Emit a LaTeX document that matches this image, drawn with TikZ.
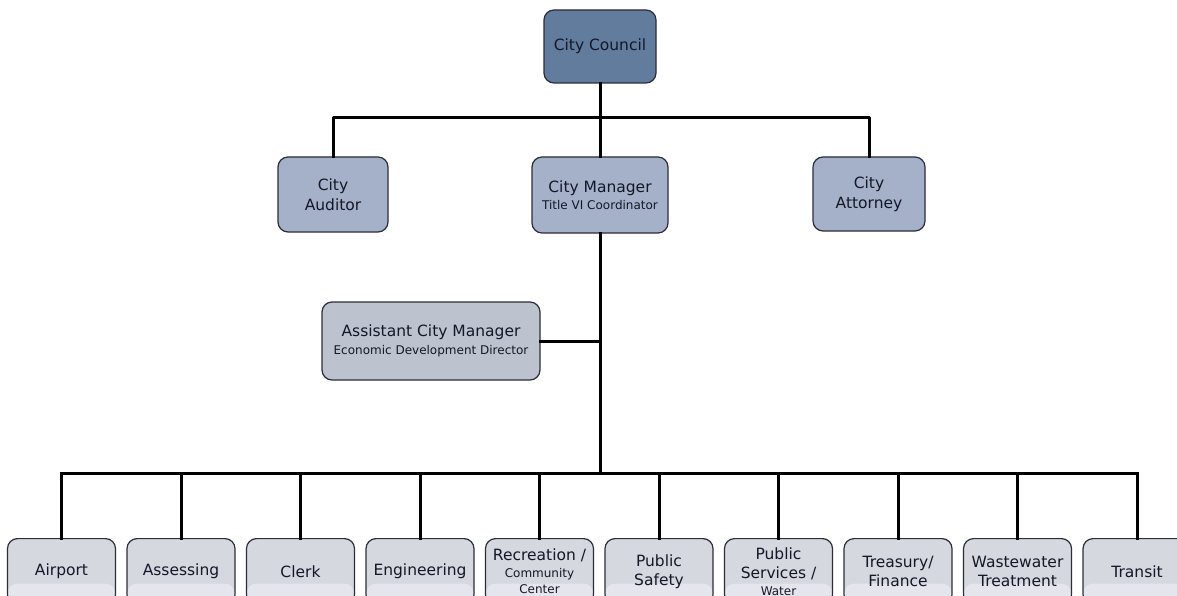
\documentclass[tikz,border=0pt]{standalone}
\usepackage{fontspec}
\setmainfont{DejaVu Sans}
\usepackage{xcolor}
\usetikzlibrary{calc,positioning}
\definecolor{councilfill}{RGB}{98,124,158}
\definecolor{topfill}{RGB}{164,177,200}
\definecolor{asstfill}{RGB}{188,194,206}
\definecolor{deptfill}{RGB}{213,216,223}
\definecolor{bandfill}{RGB}{229,229,237}
\definecolor{boxline}{RGB}{45,45,55}
\definecolor{txt}{RGB}{20,24,38}
\newcommand{\subt}[1]{{\fontsize{12}{15}\selectfont #1}}

\begin{document}
\begin{tikzpicture}[x=1pt,y=-1pt,font=\fontsize{15.5}{19.5}\selectfont,line cap=round,line join=round,
  orgbox/.style={draw=boxline,line width=1.2pt,rounded corners=10pt,inner sep=0pt,align=center,text=txt},
  council/.style={orgbox,fill=councilfill,minimum width=112pt,minimum height=73pt},
  office/.style={orgbox,fill=topfill,minimum width=110pt,minimum height=75pt},
  asst/.style={orgbox,fill=asstfill,minimum width=218pt,minimum height=78pt},
  dept/.style={orgbox,fill=deptfill,minimum width=108pt,minimum height=66pt,anchor=north,
    path picture={\fill[bandfill] ([yshift=21pt]path picture bounding box.south west) rectangle (path picture bounding box.south east);}},
  link/.style={line width=3pt,line cap=rect}]
\useasboundingbox (0,0) rectangle (1177,596);
\clip (0,0) rectangle (1177,596);
\fill[white] (0,0) rectangle (1177,596);
% top levels
\node[council] (council) at (600,46.5) {City Council};
\node[office] (aud) at (333,194.5) {City\\Auditor};
\node[office,minimum width=136pt,minimum height=76pt] (mgr) at (600,195) {City Manager\\[-2pt]\subt{Title VI Coordinator}};
\node[office,minimum width=112pt,minimum height=74pt] (att) at (869,194) {City\\Attorney};
\node[asst] (asst) at (431,341) {Assistant City Manager\\[-2pt]\subt{Economic Development Director}};
\coordinate (top) at (600,118);
\coordinate (bus) at (600,473);
% departments
\foreach \i/\lab in {1/Airport,2/Assessing,3/Clerk,4/Engineering,5/{Recreation /\\[-3pt]\subt{Community}\\[-3pt]\subt{Center}},
  6/{Public\\Safety},7/{Public\\Services /\\[-3pt]\subt{Water}},8/{Treasury/\\Finance},9/{Wastewater\\Treatment},10/Transit}
  \node[dept] (d\i) at ({61.5+119.5*(\i-1)},538) {\lab};
% lines
\draw[link] (council) -- (mgr);
\draw[link] (aud.north) -- (aud.north |- top) -- (att.north |- top) -- (att.north);
\draw[link] (mgr) -- (bus);
\draw[link] (asst.east) -- (asst.east -| mgr.south);
\draw[link] (d1.north |- bus) -- (d10.north |- bus);
\foreach \i in {1,...,10}
  \draw[link] (d\i.north) -- (d\i.north |- bus);
\end{tikzpicture}
\end{document}
